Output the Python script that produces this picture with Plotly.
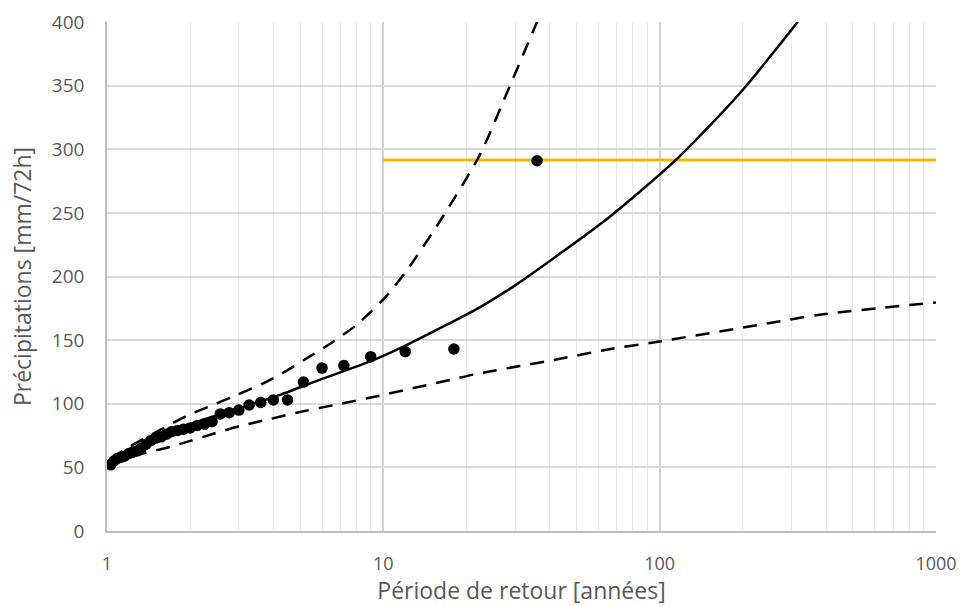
import plotly.graph_objects as go

# Observed annual maxima (return period in years, precipitation mm/72h)
obs_T = [36, 18, 12, 9, 7.2, 6, 5.14, 4.5, 4.0, 3.6, 3.27, 3.0, 2.77, 2.57, 2.4, 2.25,
         2.12, 2.0, 1.89, 1.8, 1.71, 1.64, 1.57, 1.5, 1.44, 1.38, 1.33, 1.29, 1.24,
         1.2, 1.16, 1.125, 1.09, 1.06, 1.03]
obs_P = [291, 143, 141, 137, 130, 128, 117, 103, 103, 101, 99, 95, 93, 92, 86, 84,
         83, 81, 80, 79, 78, 76, 74, 73, 71, 68, 65, 63, 62, 61, 59, 58, 57, 55, 52]

# Fitted curve
fit_T = [1.03, 1.1, 1.2, 1.35, 1.5, 1.75, 2, 2.5, 3, 4.23, 6, 9, 12.5, 22.4, 30, 43.6, 66, 115, 195, 318, 330]
fit_P = [53, 57, 62, 68, 73, 79, 84, 91, 96.5, 107, 119.5, 133.5, 147.5, 176, 193, 218, 247, 292, 344, 401, 406]

# Upper confidence bound
up_T = [1.03, 1.2, 1.556, 1.94, 2.42, 2.95, 3.63, 4.23, 5.5, 6.5, 8.0, 10, 12, 16.3, 22.4, 28.6, 36, 36.5]
up_P = [57, 66, 79.4, 90.5, 99, 107, 115.5, 123, 138, 148, 162, 182, 203, 246, 296, 349, 400, 403]

# Lower confidence bound
low_T = [1.03, 1.3, 1.62, 2.0, 2.46, 3.03, 3.89, 4.85, 7, 10, 17.4, 21.8, 44, 64.3, 100, 244, 380, 1000]
low_P = [52, 60, 65, 70.8, 76.8, 82.5, 88, 93, 100, 107, 118.7, 123.5, 135.5, 142.5, 149, 163, 170, 179.6]

# Reference event level
ref_T = [10, 1000]
ref_P = [291.5, 291.5]

x_ticks = [1, 10, 100, 1000]
x_minor = [2, 3, 4, 5, 6, 7, 8, 9, 20, 30, 40, 50, 60, 70, 80, 90,
           200, 300, 400, 500, 600, 700, 800, 900]
y_ticks = [0, 50, 100, 150, 200, 250, 300, 350, 400]

fig = go.Figure()
dash = "14px,10px"
fig.add_trace(go.Scatter(x=ref_T, y=ref_P, mode="lines",
                         line=dict(color="#F5B800", width=3), showlegend=False))
for xs, ys in [(up_T, up_P), (low_T, low_P)]:
    fig.add_trace(go.Scatter(x=xs, y=ys, mode="lines",
                             line=dict(color="black", width=2.5, dash=dash, shape="spline", smoothing=0.7),
                             showlegend=False))
fig.add_trace(go.Scatter(x=fit_T, y=fit_P, mode="lines",
                         line=dict(color="black", width=2.5, shape="spline", smoothing=0.7),
                         showlegend=False))
fig.add_trace(go.Scatter(x=obs_T, y=obs_P, mode="markers",
                         marker=dict(color="black", size=11.5), showlegend=False))

font_fam = "'Open Sans', sans-serif"
fig.update_layout(
    width=962, height=606,
    margin=dict(l=107, r=26, t=22, b=75),
    paper_bgcolor="white", plot_bgcolor="white",
    font=dict(family=font_fam, color="#595959", size=18),
    xaxis=dict(type="log", range=[0, 3], tickmode="array", tickvals=x_ticks,
               ticktext=[str(v) for v in x_ticks], automargin=False,
               showgrid=True, gridcolor="#D0D0D0", gridwidth=1.5,
               minor=dict(tickmode="array", tickvals=x_minor, showgrid=True,
                          gridcolor="#E8E8E8", gridwidth=1, ticks=""),
               showline=True, linecolor="#BFBFBF", linewidth=1.5,
               zeroline=False, ticks="", ticklabelstandoff=16,
               title=dict(text="Période de retour [années]", font=dict(size=23), standoff=15)),
    yaxis=dict(range=[0, 400], tickvals=y_ticks, automargin=False,
               tickfont=dict(size=19),
               showgrid=True, gridcolor="#D9D9D9", gridwidth=1.5,
               showline=True, linecolor="#BFBFBF", linewidth=1.5,
               zeroline=False, ticks="", ticklabelstandoff=17,
               title=dict(text="Précipitations [mm/72h]", font=dict(size=23), standoff=14)),
)

fig.write_html("out.html", config={"displayModeBar": False},
               post_script="document.body.style.margin='0px';")
